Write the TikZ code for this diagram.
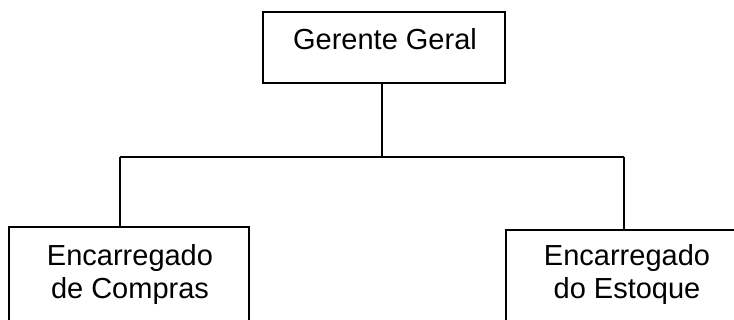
\documentclass[tikz,border=0pt]{standalone}
\usepackage{fontspec}
\setmainfont{Liberation Sans}
\begin{document}
\begin{tikzpicture}[x=1pt,y=-1pt,
  orgbox/.style={draw=black,line width=1.5pt,rectangle,inner sep=0pt,fill=white},
  orgtext/.style={inner sep=0pt,align=center,font=\fontsize{29}{33}\selectfont},
  link/.style={draw=black,line width=1.5pt}]
\useasboundingbox (0,0) rectangle (734,320);
\clip (0,0) rectangle (734,320);
\fill[white] (0,0) rectangle (734,320);
\node[orgbox,minimum width=242pt,minimum height=71pt] (gg) at (384,47.5) {};
\node[orgbox,minimum width=240pt,minimum height=120pt] (lb) at (129,287) {};
\node[orgbox,minimum width=242pt,minimum height=120pt] (rb) at (627,290) {};
\node[orgtext,anchor=base] (ggt) at (385,50) {Gerente Geral};
\node[orgtext,anchor=base] (lbt) at (130,299) {Encarregado\\de Compras};
\node[orgtext,anchor=base] (rbt) at (627,299) {Encarregado\\do Estoque};
\coordinate (busL) at (120,157);
\coordinate (busR) at (624,157);
\coordinate (busM) at (382,157);
\draw[link] (gg.south -| busM) -- (busM);
\draw[link] (busL) -- (busR);
\draw[link] (busL) -- (busL |- lb.north);
\draw[link] (busR) -- (busR |- rb.north);
\end{tikzpicture}
\end{document}
